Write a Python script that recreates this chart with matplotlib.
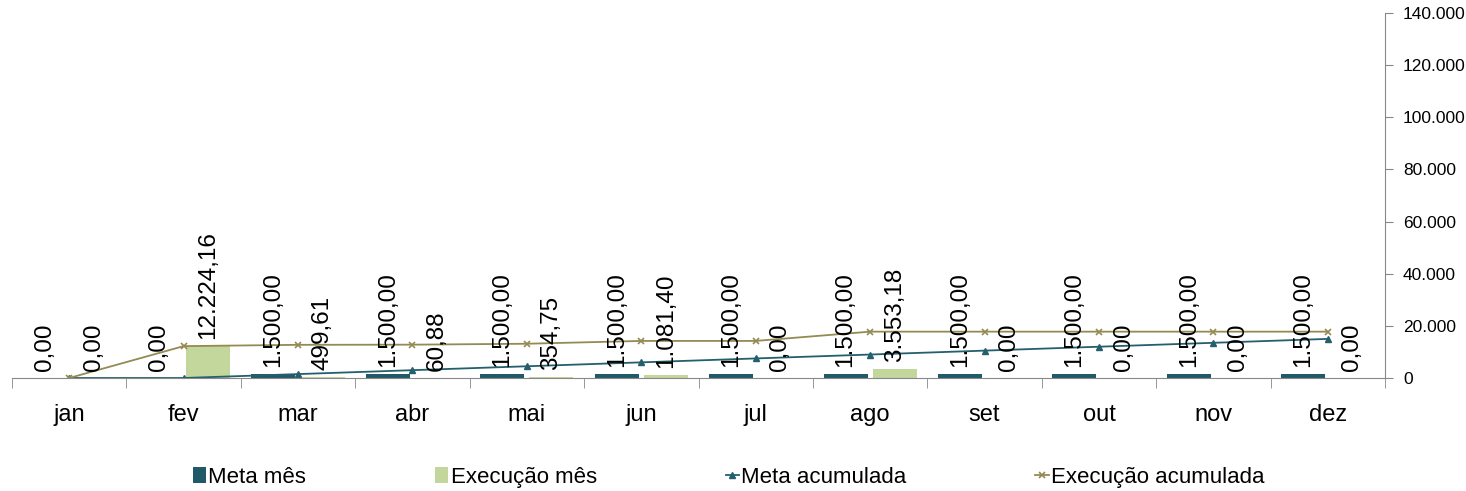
import matplotlib.pyplot as plt
import numpy as np
from matplotlib.ticker import FuncFormatter

plt.rcParams['font.family'] = ['Liberation Sans', 'DejaVu Sans']

# Monthly data
meses = ['jan', 'fev', 'mar', 'abr', 'mai', 'jun', 'jul', 'ago', 'set', 'out', 'nov', 'dez']
meta_mes = [0, 0, 1500, 1500, 1500, 1500, 1500, 1500, 1500, 1500, 1500, 1500]
execucao_mes = [0, 12224.16, 499.61, 60.88, 354.75, 1081.40, 0, 3553.18, 0, 0, 0, 0]
meta_acumulada = list(np.cumsum(meta_mes))
execucao_acumulada = list(np.cumsum(execucao_mes))

c_meta = '#215968'
c_exec = '#c3d69b'
c_exec_line = '#948a54'
c_meta_line = '#245f6e'


def br_number(v, decimals=2):
    s = f"{v:,.{decimals}f}"
    return s.replace(',', 'X').replace('.', ',').replace('X', '.')


fig = plt.figure(figsize=(14.66, 4.91), dpi=100)
ax = fig.add_axes([12 / 1466, 113 / 491, 1373 / 1466, 365 / 491])

x = np.arange(len(meses))
w = 0.385
off = 0.215
b1 = ax.bar(x - off, meta_mes, w, color=c_meta, label='Meta mês')
b2 = ax.bar(x + off, execucao_mes, w, color=c_exec, label='Execução mês')
ax.plot(x, meta_acumulada, color=c_meta_line, marker='^', markersize=5, lw=1.3,
        label='Meta acumulada')
ax.plot(x, execucao_acumulada, color=c_exec_line, marker='x', markersize=5, lw=1.3,
        markeredgewidth=1.2, label='Execução acumulada')

# rotated data labels above bars
for xi, v in zip(x - off, meta_mes):
    ax.annotate(br_number(v), (xi, v), xytext=(0, 5), textcoords='offset points',
                rotation=90, ha='center', va='bottom', fontsize=17.5)
for xi, v in zip(x + off, execucao_mes):
    ax.annotate(br_number(v), (xi, v), xytext=(0, 5), textcoords='offset points',
                rotation=90, ha='center', va='bottom', fontsize=17.5)

ax.set_xlim(-0.5, len(meses) - 0.5)
ax.set_ylim(0, 140000)
ax.set_yticks(np.arange(0, 140001, 20000))
ax.yaxis.set_major_formatter(FuncFormatter(lambda v, p: br_number(v, 0)))
ax.yaxis.tick_right()
ax.tick_params(axis='y', direction='out', length=6, color='#888888',
               labelsize=12.5, pad=7, left=False)

ax.set_xticks(x)
ax.set_xticklabels(meses, fontsize=17)
ax.set_xticks(np.arange(-0.5, len(meses)), minor=True)
ax.tick_params(axis='x', which='major', length=0, pad=19)
ax.tick_params(axis='x', which='minor', length=7, color='#888888')

for s in ['top', 'left']:
    ax.spines[s].set_visible(False)
for s in ['bottom', 'right']:
    ax.spines[s].set_color('#888888')

fig.legend(handles=[b1, b2, ax.lines[0], ax.lines[1]], loc='center',
           bbox_to_anchor=(0.497, 0.028), ncol=4, frameon=False, fontsize=16,
           handlelength=0.6, handletextpad=0.1, columnspacing=5.8,
           markerscale=0.9)

fig.savefig('out.png', dpi=100)
